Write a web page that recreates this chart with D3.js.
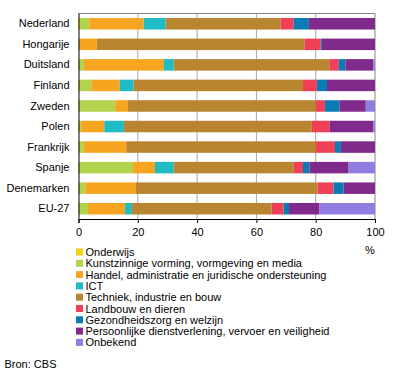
<!DOCTYPE html>
<html>
<head>
<meta charset="utf-8">
<script src="https://cdn.jsdelivr.net/npm/d3@7"></script>
<style>
  body { margin: 0; background: #fff; }
  text { font-family: "Liberation Sans", Arial, sans-serif; fill: #000; }
</style>
</head>
<body>
<div id="chart"></div>
<script>
const countries = ['Nederland', 'Hongarije', 'Duitsland', 'Finland', 'Zweden', 'Polen', 'Frankrijk', 'Spanje', 'Denemarken', 'EU-27'];

const sectors = [
    'Onderwijs',
    'Kunstzinnige vorming, vormgeving en media',
    'Handel, administratie en juridische ondersteuning',
    'ICT',
    'Techniek, industrie en bouw',
    'Landbouw en dieren',
    'Gezondheidszorg en welzijn',
    'Persoonlijke dienstverlening, vervoer en veiligheid',
    'Onbekend'
];

const colors = ['#f5d10c', '#b2d44c', '#f7a520', '#1fbcc6', '#b98531', '#ef4058', '#0b7bb6', '#802a8b', '#917de2'];

// percentages per country, in sector order
const onderwijs     = [0.5, 0,    0,    0,    0,    0,    0,    0,    0,    0];
const kunst         = [3.1, 0.2,  1.8,  4.3,  12.4, 0.9,  1.8,  18.4, 2.3,  3.2];
const handel        = [18.4, 6.0, 27.0, 9.6,  4.3,  7.8,  14.3, 7.4,  17.1, 12.5];
const ict           = [7.4, 0,    3.3,  4.7,  0,    6.6,  0,    6.3,  0,    2.3];
const techniek      = [38.8, 70.1, 52.5, 57.1, 63.4, 63.4, 64.0, 40.5, 61.2, 47.1];
const landbouw      = [4.4, 5.4,  3.2,  4.7,  3.0,  6.0,  6.4,  3.1,  5.4,  4.1];
const gezondheid    = [5.1, 0.4,  2.2,  3.4,  5.0,  0,    2.0,  2.2,  3.4,  1.8];
const persoonlijk   = [22.3, 17.9, 9.4, 16.2, 8.8,  14.8, 11.5, 13.2, 10.6, 10.3];
const onbekend      = [0,   0,    0.6,  0,    3.1,  0.5,  0,    8.9,  0,    18.7];

const xTicks = [0, 20, 40, 60, 80, 100];

const seriesValues = [onderwijs, kunst, handel, ict, techniek, landbouw, gezondheid, persoonlijk, onbekend];

const rows = countries.map((c, i) => {
    const row = { country: c };
    sectors.forEach((s, j) => { row[s] = seriesValues[j][i]; });
    return row;
});

const W = 396, H = 376;
const margin = { top: 13.5, right: 21, bottom: 157, left: 78.5 };
const width = W - margin.left - margin.right;
const height = H - margin.top - margin.bottom;

const svg = d3.select('#chart').append('svg')
    .attr('width', W)
    .attr('height', H);

const g = svg.append('g')
    .attr('transform', `translate(${margin.left},${margin.top})`);

const x = d3.scaleLinear().domain([0, 100]).range([0, width]);
const y = d3.scaleBand().domain(countries).range([0, height]).paddingInner(0.44).paddingOuter(0.22);

// gridlines
g.selectAll('.grid')
    .data(xTicks.slice(1, -1))
    .enter().append('line')
    .attr('x1', d => x(d)).attr('x2', d => x(d))
    .attr('y1', 0).attr('y2', height)
    .attr('stroke', '#a6a6a6')
    .attr('stroke-width', 1);

// frame top & right
g.append('path')
    .attr('d', `M0,0H${width}V${height}`)
    .attr('fill', 'none')
    .attr('stroke', '#858585')
    .attr('stroke-width', 1);

// bars
const stack = d3.stack().keys(sectors)(rows);

g.selectAll('.layer')
    .data(stack)
    .enter().append('g')
    .attr('fill', (d, i) => colors[i])
    .selectAll('rect')
    .data(d => d)
    .enter().append('rect')
    .attr('x', d => x(d[0]))
    .attr('width', d => x(d[1]) - x(d[0]))
    .attr('y', d => y(d.data.country))
    .attr('height', y.bandwidth());

// axes
const xAxis = g.append('g')
    .attr('transform', `translate(0,${height})`)
    .call(d3.axisBottom(x).tickValues(xTicks).tickSize(4).tickPadding(5));
xAxis.select('.domain').attr('stroke', '#000');
xAxis.selectAll('text').style('font-size', '11px').style('font-family', '"Liberation Sans", Arial, sans-serif');

const yAxis = g.append('g')
    .call(d3.axisLeft(y).tickSize(0).tickPadding(9));
yAxis.select('.domain').attr('stroke', '#000').attr('d', `M0.5,0V${height}`);
yAxis.selectAll('text').style('font-size', '11px').style('font-family', '"Liberation Sans", Arial, sans-serif');

g.append('text')
    .attr('x', width - 5)
    .attr('y', height + 35)
    .attr('text-anchor', 'middle')
    .style('font-size', '11px')
    .text('%');

// legend
const legend = svg.append('g')
    .attr('transform', `translate(76,${252})`);

const item = legend.selectAll('.item')
    .data(sectors)
    .enter().append('g')
    .attr('transform', (d, i) => `translate(0,${i * 11.3})`);

item.append('rect')
    .attr('x', 0).attr('y', -3.5)
    .attr('width', 7).attr('height', 7)
    .attr('fill', (d, i) => colors[i]);

item.append('text')
    .attr('x', 9.5)
    .attr('y', 4)
    .style('font-size', '11px')
    .text(d => d);

svg.append('text')
    .attr('x', 4.5)
    .attr('y', 368)
    .style('font-size', '11px')
    .text('Bron: CBS');
</script>
</body>
</html>
